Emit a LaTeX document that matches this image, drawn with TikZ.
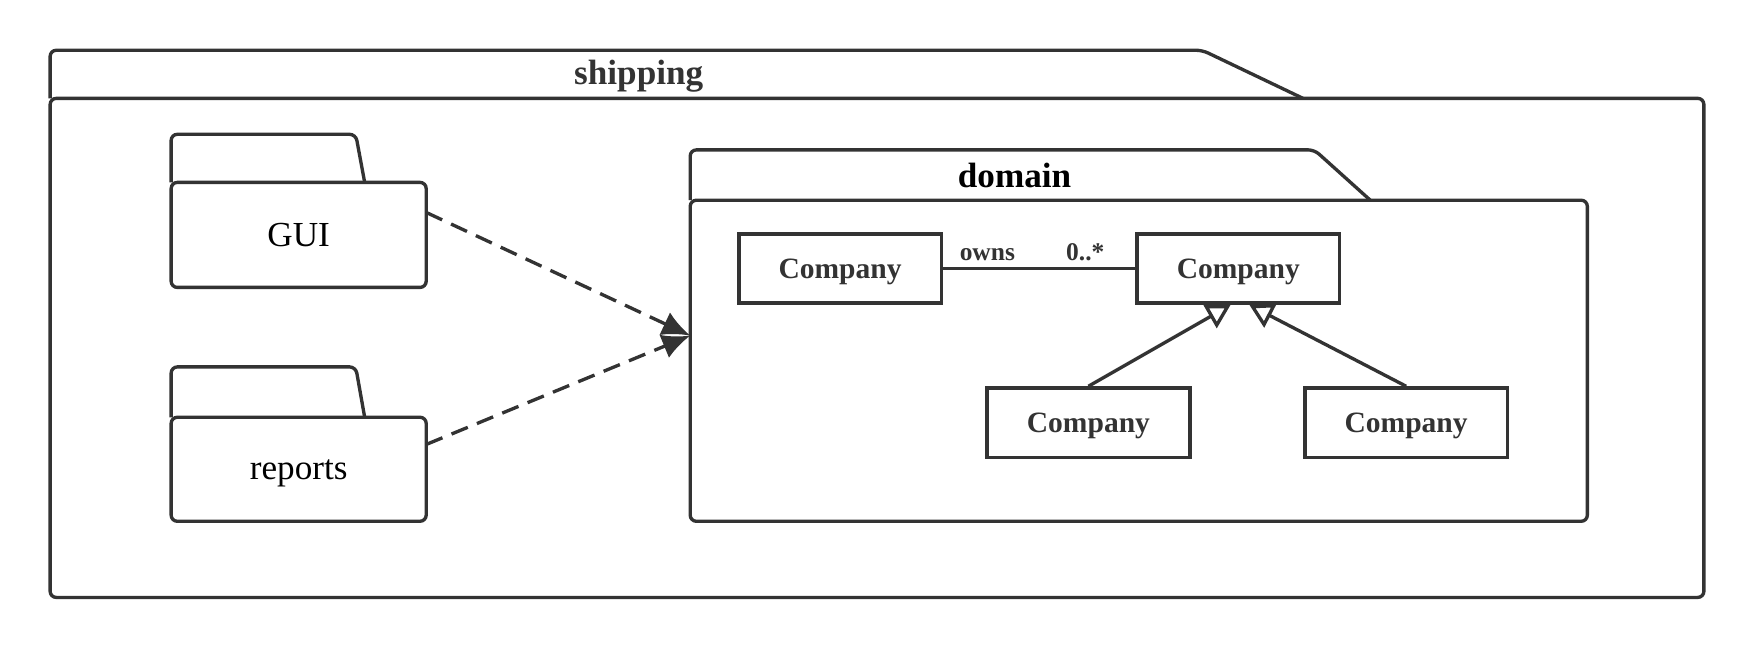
\documentclass[tikz,border=0pt]{standalone}
\usepackage{fontspec}
\setmainfont{Liberation Serif}
\usetikzlibrary{arrows.meta,positioning,calc}
\definecolor{umlgray}{HTML}{333333}
\tikzset{
  umlline/.style={draw=umlgray, line width=1.9pt},
  pkgbody/.style={umlline, rounded corners=3.5pt, inner sep=0pt, outer sep=0pt, text depth=0pt},
  tabline/.style={umlline, rounded corners=3.5pt},
  umlclass/.style={umlline, line width=2.1pt, minimum width=4.05cm, minimum height=1.39cm,
    text depth=0pt, font=\fontsize{16.8}{20}\selectfont\bfseries, text=umlgray},
  pkgname/.style={font=\fontsize{20}{24}\selectfont\bfseries},
  depends/.style={umlline, dash pattern=on 10pt off 5.6pt,
    -{Latex[length=0.56cm,width=0.5cm]}},
  inherits/.style={umlline, -{Triangle[open,length=0.47cm,width=0.52cm,fill=white]}}
}
\begin{document}
\begin{tikzpicture}[x=0.022374cm,y=-0.022374cm]
      \useasboundingbox (0,0) rectangle (1568,579.3);

      % PACKAGES
      % shipping
      \node[pkgbody, minimum width=33.07cm, minimum height=9.98cm] (shipping) at (784,311) {};
      \draw[tabline] (shipping.north west) -- ++(0,-43) -- ++(1030,0) -- ++(90,43);
      \node[pkgname, text=umlgray] at (571,68) {shipping};

      % GUI
      \node[pkgbody, minimum width=5.10cm, minimum height=2.10cm,
        font=\fontsize{20}{24}\selectfont] (gui) at (267,210) {GUI};
      \draw[tabline] (gui.north west) -- ++(0,-43) -- ++(165,0) -- ++(8,43);

      % reports
      \node[pkgbody, minimum width=5.10cm, minimum height=2.08cm,
        font=\fontsize{20}{24}\selectfont] (reports) at (267,419.5) {reports};
      \draw[tabline] (reports.north west) -- ++(0,-45) -- ++(165,0) -- ++(8,45);

      % domain
      \node[pkgbody, minimum width=17.94cm, minimum height=6.42cm] (domain) at (1018,322.5) {};
      \draw[tabline] (domain.north west) -- ++(0,-45) -- ++(558,0) -- ++(50,45);
      \node[pkgname] at (907,157) {domain};
      \coordinate (domainin) at (617,300);

      % CLASSES
      \node[umlclass] (c1) at (751,240) {Company};
      \node[umlclass] (c2) at (1107,240) {Company};
      \node[umlclass] (c3) at (973,378) {Company};
      \node[umlclass] (c4) at (1257,378) {Company};

      % ARROWS
      \draw[depends] (gui.10) -- (domainin);
      \draw[depends] (reports.11) -- (domainin);
      \draw[umlline] (c1.east) -- (c2.west)
        node[pos=0.23, above, font=\fontsize{14.5}{17}\selectfont\bfseries, text=umlgray] {owns}
        node[pos=0.74, above, font=\fontsize{14.5}{17}\selectfont\bfseries, text=umlgray] {0..*};
      \draw[inherits] (c3.north) -- ([xshift=-0.157cm]c2.south);
      \draw[inherits] (c4.north) -- ([xshift=0.224cm]c2.south);
\end{tikzpicture}
\end{document}
